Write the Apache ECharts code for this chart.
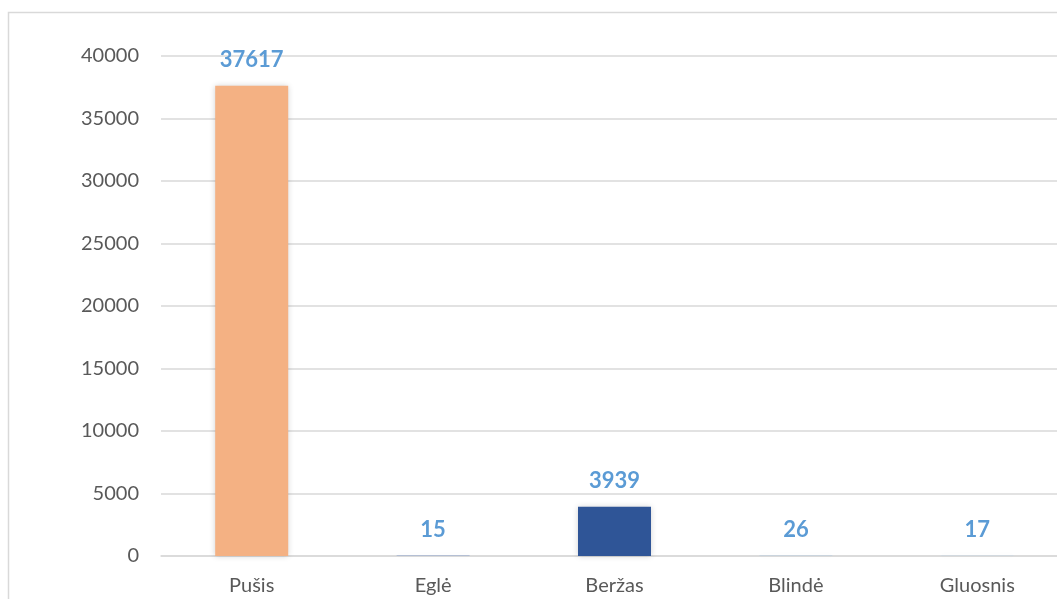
<!DOCTYPE html>
<html>
<head>
<meta charset="utf-8">
<script src="https://cdn.jsdelivr.net/npm/echarts@6/dist/echarts.min.js"></script>
<style>
  html, body { margin: 0; padding: 0; background: #fff; }
  #chart { width: 1057px; height: 599px; }
</style>
</head>
<body>
<div id="chart"></div>
<script>
// medžių rūšys ir kiekiai
const categories = ['Pušis', 'Eglė', 'Beržas', 'Blindė', 'Gluosnis']
const values = [37617, 15, 3939, 26, 17]
const barColors = ['#F4B183', '#4472C4', '#2F5597', '#9DC3E6', '#BDD7EE']

const chart = echarts.init(document.getElementById('chart'))

const option = {
  animation: false,
  textStyle: { fontFamily: 'Lato, "Open Sans", sans-serif' },
  graphic: [{
    type: 'rect',
    shape: { x: 8.5, y: 12.5, width: 1100, height: 700 },
    style: { fill: 'none', stroke: '#d9d9d9', lineWidth: 1.5 },
    silent: true
  }],
  grid: { left: 161, width: 907, top: 56, bottom: 43, outerBoundsMode: 'none' },
  xAxis: {
    type: 'category',
    data: categories,
    axisLine: { show: true, lineStyle: { color: '#d9d9d9', width: 1.5 } },
    axisTick: { show: false },
    axisLabel: { color: '#595959', fontSize: 20, margin: 20 }
  },
  yAxis: {
    type: 'value',
    min: 0,
    max: 40000,
    interval: 5000,
    axisLine: { show: false },
    axisTick: { show: false },
    axisLabel: { color: '#595959', fontSize: 20, margin: 22, formatter: v => String(v) },
    splitLine: { lineStyle: { color: '#d9d9d9', width: 1.5 } }
  },
  series: [{
    type: 'bar',
    barWidth: 73,
    data: values.map((v, i) => ({
      value: v,
      itemStyle: { color: barColors[i] }
    })),
    itemStyle: {
      shadowBlur: 6,
      shadowColor: 'rgba(0,0,0,0.18)'
    },
    label: {
      show: true,
      position: 'top',
      distance: 15,
      color: '#5B9BD5',
      fontWeight: 'bold',
      fontSize: 22
    }
  }]
}

chart.setOption(option)
</script>
</body>
</html>
